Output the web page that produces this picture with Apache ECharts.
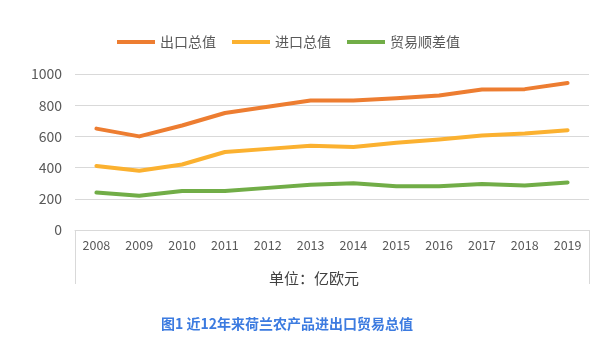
<!DOCTYPE html>
<html><head><meta charset="utf-8">
<script src="https://cdn.jsdelivr.net/npm/echarts@6/dist/echarts.min.js"></script>
<style>html,body{margin:0;padding:0;background:#fff}#c{width:596px;height:340px}</style>
</head><body><div id="c"></div>
<script>
const years = ['2008','2009','2010','2011','2012','2013','2014','2015','2016','2017','2018','2019'];
const exportTotal = [650, 600, 670, 750, 790, 830, 830, 845, 862, 900, 903, 942];
const importTotal = [410, 380, 420, 500, 520, 540, 532, 560, 580, 606, 618, 640];
const tradeSurplus = [240, 220, 250, 250, 270, 290, 300, 280, 280, 295, 285, 305];
const yTicks = [0, 200, 400, 600, 800, 1000];
const seriesNames = ['出口总值', '进口总值', '贸易顺差值'];
const font = '"Noto Sans CJK SC", "Noto Sans", sans-serif';

const chart = echarts.init(document.getElementById('c'), null, {renderer: 'canvas'});
chart.setOption({
  animation: false,
  color: ['#ED7D31', '#FBB130', '#71AD47'],
  textStyle: {fontFamily: font},
  legend: {
    left: 112, top: 30, padding: 5,
    icon: 'rect', itemWidth: 38, itemHeight: 4, itemGap: 16,
    textStyle: {fontSize: 14, color: '#595959', fontFamily: font},
    data: seriesNames
  },
  grid: {left: 75, right: 7, top: 74, bottom: 110, containLabel: false},
  xAxis: {
    type: 'category', data: years, boundaryGap: true,
    axisLine: {lineStyle: {color: '#d9d9d9', width: 1}},
    axisTick: {show: false},
    axisLabel: {fontSize: 12.5, color: '#595959', margin: 9, fontFamily: font}
  },
  yAxis: {
    type: 'value', min: yTicks[0], max: yTicks[yTicks.length - 1], interval: 200,
    axisLine: {show: false}, axisTick: {show: false},
    splitLine: {lineStyle: {color: '#d9d9d9', width: 1}},
    axisLabel: {fontSize: 14, color: '#595959', margin: 13, fontFamily: font,
      formatter: function (v) { return String(v); }}
  },
  series: [
    {name: seriesNames[0], type: 'line', data: exportTotal, symbol: 'none', lineStyle: {width: 4, cap: 'round', join: 'round'}},
    {name: seriesNames[1], type: 'line', data: importTotal, symbol: 'none', lineStyle: {width: 4, cap: 'round', join: 'round'}},
    {name: seriesNames[2], type: 'line', data: tradeSurplus, symbol: 'none', lineStyle: {width: 4, cap: 'round', join: 'round'}}
  ],
  graphic: [
    {type: 'line', shape: {x1: 75.5, y1: 230, x2: 75.5, y2: 284}, style: {stroke: '#d9d9d9', lineWidth: 1}},
    {type: 'line', shape: {x1: 589.5, y1: 230, x2: 589.5, y2: 284}, style: {stroke: '#d9d9d9', lineWidth: 1}},
    {type: 'text', left: 269, top: 271, style: {text: '单位：亿欧元', fontSize: 15, fill: '#404040', fontFamily: font}},
    {type: 'text', left: 161, top: 317, style: {text: '图1 近12年来荷兰农产品进出口贸易总值', fontSize: 14, fontWeight: 'bold', fill: '#3C7BE0', fontFamily: font}}
  ]
});
</script></body></html>
